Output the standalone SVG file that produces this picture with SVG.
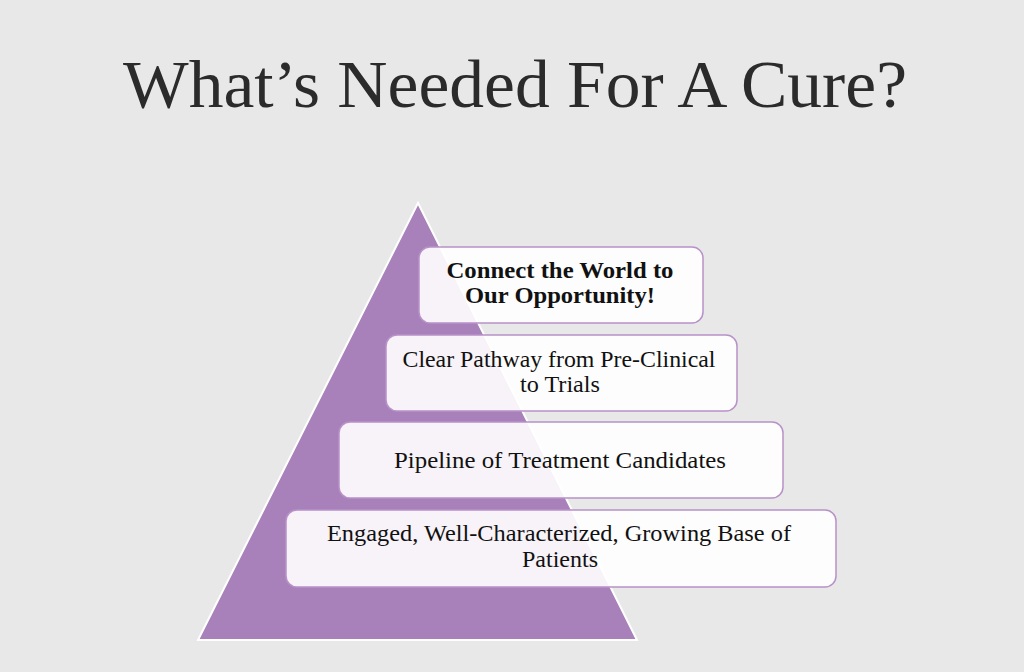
<svg xmlns="http://www.w3.org/2000/svg" width="1024" height="672" viewBox="0 0 1024 672">
<style>
.box{fill:#ffffff;fill-opacity:0.9;stroke:#b891c9;stroke-width:1.5}
.t{font-family:"Liberation Serif","DejaVu Serif",serif;font-size:23px;fill:#111;text-anchor:middle}
.b{font-weight:bold;font-size:23.5px}
</style>
<rect width="1024" height="672" fill="#e8e8e8"/>
<text x="515" y="107" font-family="'Liberation Serif','DejaVu Serif',serif" font-size="68" fill="#2b2b2b" text-anchor="middle" textLength="784" lengthAdjust="spacingAndGlyphs">What’s Needed For A Cure?</text>
<g id="pyramid">
<polygon points="418,203 637,640 198,640" fill="#a881ba" stroke="#ffffff" stroke-width="2"/>
</g>
<g id="level4">
<rect class="box" x="286" y="510" width="550" height="77" rx="11"/>
<text class="t" x="559" y="541" textLength="464" lengthAdjust="spacingAndGlyphs">Engaged, Well-Characterized, Growing Base of</text>
<text class="t" x="560" y="567" textLength="76" lengthAdjust="spacingAndGlyphs">Patients</text>
</g>
<g id="level3">
<rect class="box" x="339" y="422" width="444" height="76" rx="11"/>
<text class="t" x="560" y="468" textLength="332" lengthAdjust="spacingAndGlyphs">Pipeline of Treatment Candidates</text>
</g>
<g id="level2">
<rect class="box" x="386" y="335" width="351" height="76" rx="11"/>
<text class="t" x="559" y="367" textLength="313" lengthAdjust="spacingAndGlyphs">Clear Pathway from Pre-Clinical</text>
<text class="t" x="560" y="392" textLength="80" lengthAdjust="spacingAndGlyphs">to Trials</text>
</g>
<g id="level1">
<rect class="box" x="419" y="247" width="284" height="76" rx="11"/>
<text class="t b" x="560" y="278" textLength="227" lengthAdjust="spacingAndGlyphs">Connect the World to</text>
<text class="t b" x="560" y="303" textLength="190" lengthAdjust="spacingAndGlyphs">Our Opportunity!</text>
</g>
<g id="connectors"></g>
</svg>
